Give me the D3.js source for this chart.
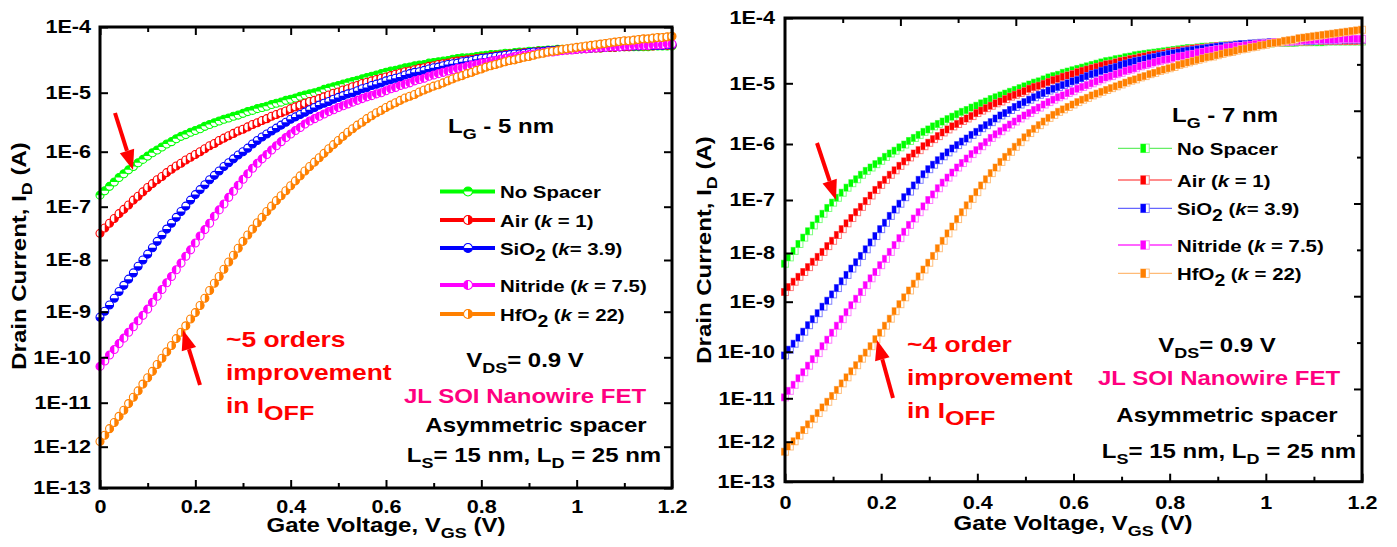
<!DOCTYPE html>
<html>
<head>
<meta charset="utf-8">
<script src="https://cdn.jsdelivr.net/npm/d3@7"></script>
<style>
  html, body { margin: 0; padding: 0; background: #fff; }
  svg { display: block; }
  text { font-family: "Liberation Sans", Arial, Helvetica, sans-serif; font-weight: bold; }
</style>
</head>
<body>
<svg id="chart" width="1397" height="547"></svg>
<script>
// Gate voltage sweep: 0 to 1.2 V in 10 mV steps
const vgs = d3.range(121).map(i => +(i / 100).toFixed(2));

// log10 of drain current I_D (A), gate length 5 nm
const lg5NoSpacer = [-6.79,
  -6.71, -6.63, -6.55, -6.47, -6.40, -6.33, -6.27, -6.20, -6.14, -6.08,
  -6.02, -5.97, -5.92, -5.87, -5.83, -5.78, -5.74, -5.71, -5.67, -5.64,
  -5.61, -5.57, -5.54, -5.51, -5.48, -5.45, -5.43, -5.40, -5.38, -5.35,
  -5.32, -5.30, -5.27, -5.25, -5.23, -5.20, -5.18, -5.16, -5.13, -5.11,
  -5.09, -5.06, -5.04, -5.02, -5.00, -4.98, -4.95, -4.93, -4.91, -4.89,
  -4.87, -4.85, -4.83, -4.81, -4.79, -4.77, -4.75, -4.73, -4.71, -4.69,
  -4.67, -4.66, -4.64, -4.62, -4.61, -4.59, -4.58, -4.57, -4.55, -4.54,
  -4.53, -4.52, -4.51, -4.49, -4.48, -4.47, -4.47, -4.46, -4.45, -4.44,
  -4.43, -4.42, -4.42, -4.41, -4.40, -4.40, -4.39, -4.38, -4.38, -4.37,
  -4.37, -4.36, -4.36, -4.35, -4.35, -4.34, -4.34, -4.34, -4.33, -4.33,
  -4.33, -4.32, -4.32, -4.32, -4.32, -4.31, -4.31, -4.31, -4.30, -4.30,
  -4.30, -4.30, -4.30, -4.30, -4.30, -4.29, -4.29, -4.29, -4.29, -4.29];
const lg5Air = [-7.50,
  -7.40, -7.31, -7.22, -7.13, -7.05, -6.97, -6.88, -6.81, -6.73, -6.65,
  -6.58, -6.51, -6.45, -6.38, -6.32, -6.26, -6.21, -6.15, -6.10, -6.05,
  -6.00, -5.95, -5.90, -5.86, -5.81, -5.77, -5.73, -5.69, -5.65, -5.62,
  -5.58, -5.54, -5.51, -5.47, -5.44, -5.40, -5.37, -5.34, -5.31, -5.27,
  -5.24, -5.21, -5.18, -5.15, -5.13, -5.10, -5.07, -5.04, -5.01, -4.99,
  -4.96, -4.94, -4.91, -4.89, -4.86, -4.84, -4.82, -4.80, -4.78, -4.76,
  -4.74, -4.72, -4.70, -4.68, -4.67, -4.65, -4.63, -4.62, -4.60, -4.59,
  -4.57, -4.56, -4.55, -4.53, -4.52, -4.51, -4.50, -4.49, -4.48, -4.47,
  -4.46, -4.45, -4.44, -4.43, -4.42, -4.41, -4.41, -4.40, -4.39, -4.39,
  -4.38, -4.37, -4.37, -4.36, -4.36, -4.35, -4.35, -4.35, -4.34, -4.34,
  -4.33, -4.33, -4.32, -4.32, -4.32, -4.31, -4.31, -4.31, -4.30, -4.30,
  -4.30, -4.29, -4.29, -4.29, -4.29, -4.29, -4.28, -4.28, -4.28, -4.28];
const lg5SiO2 = [-9.12,
  -8.99, -8.87, -8.74, -8.61, -8.49, -8.37, -8.25, -8.12, -8.00, -7.89,
  -7.77, -7.65, -7.53, -7.42, -7.31, -7.20, -7.09, -6.99, -6.88, -6.78,
  -6.69, -6.60, -6.51, -6.43, -6.35, -6.27, -6.20, -6.13, -6.06, -6.00,
  -5.94, -5.87, -5.81, -5.75, -5.70, -5.65, -5.60, -5.55, -5.50, -5.45,
  -5.41, -5.37, -5.33, -5.29, -5.25, -5.21, -5.18, -5.15, -5.11, -5.08,
  -5.05, -5.02, -5.00, -4.97, -4.94, -4.92, -4.89, -4.87, -4.85, -4.82,
  -4.80, -4.78, -4.76, -4.73, -4.71, -4.69, -4.68, -4.66, -4.64, -4.62,
  -4.61, -4.59, -4.57, -4.56, -4.55, -4.53, -4.52, -4.51, -4.49, -4.48,
  -4.47, -4.46, -4.45, -4.44, -4.43, -4.42, -4.41, -4.41, -4.40, -4.39,
  -4.38, -4.38, -4.37, -4.36, -4.36, -4.35, -4.35, -4.34, -4.34, -4.33,
  -4.33, -4.32, -4.32, -4.31, -4.31, -4.31, -4.30, -4.30, -4.30, -4.29,
  -4.29, -4.29, -4.29, -4.28, -4.28, -4.28, -4.28, -4.28, -4.27, -4.27];
const lg5Nitride = [-10.20,
  -10.08, -9.95, -9.83, -9.70, -9.58, -9.45, -9.33, -9.20, -9.08, -8.95,
  -8.82, -8.70, -8.57, -8.44, -8.32, -8.19, -8.06, -7.93, -7.81, -7.68,
  -7.55, -7.43, -7.31, -7.18, -7.06, -6.95, -6.83, -6.72, -6.61, -6.50,
  -6.40, -6.30, -6.21, -6.13, -6.05, -5.97, -5.90, -5.83, -5.76, -5.70,
  -5.64, -5.59, -5.53, -5.48, -5.44, -5.40, -5.36, -5.32, -5.29, -5.25,
  -5.22, -5.19, -5.16, -5.13, -5.10, -5.07, -5.05, -5.02, -5.00, -4.97,
  -4.94, -4.92, -4.89, -4.87, -4.85, -4.82, -4.80, -4.78, -4.75, -4.73,
  -4.71, -4.69, -4.67, -4.65, -4.63, -4.62, -4.60, -4.58, -4.57, -4.55,
  -4.54, -4.52, -4.51, -4.49, -4.48, -4.47, -4.45, -4.44, -4.43, -4.42,
  -4.41, -4.40, -4.39, -4.38, -4.38, -4.37, -4.36, -4.35, -4.35, -4.34,
  -4.33, -4.33, -4.32, -4.32, -4.31, -4.31, -4.30, -4.30, -4.30, -4.29,
  -4.29, -4.28, -4.28, -4.28, -4.28, -4.27, -4.27, -4.27, -4.26, -4.26];
const lg5HfO2 = [-11.88,
  -11.74, -11.59, -11.45, -11.31, -11.17, -11.02, -10.88, -10.74, -10.59, -10.45,
  -10.31, -10.16, -10.02, -9.88, -9.74, -9.59, -9.45, -9.31, -9.16, -9.02,
  -8.88, -8.74, -8.59, -8.45, -8.32, -8.18, -8.04, -7.91, -7.78, -7.65,
  -7.53, -7.42, -7.30, -7.20, -7.09, -6.99, -6.89, -6.80, -6.71, -6.62,
  -6.53, -6.44, -6.35, -6.27, -6.19, -6.11, -6.03, -5.95, -5.88, -5.81,
  -5.74, -5.67, -5.61, -5.55, -5.50, -5.44, -5.39, -5.34, -5.30, -5.25,
  -5.21, -5.17, -5.13, -5.09, -5.06, -5.03, -4.99, -4.96, -4.93, -4.90,
  -4.88, -4.85, -4.82, -4.79, -4.76, -4.74, -4.71, -4.69, -4.66, -4.64,
  -4.61, -4.59, -4.57, -4.55, -4.53, -4.51, -4.50, -4.48, -4.46, -4.45,
  -4.43, -4.41, -4.40, -4.38, -4.37, -4.36, -4.34, -4.33, -4.32, -4.31,
  -4.30, -4.29, -4.28, -4.27, -4.26, -4.25, -4.24, -4.23, -4.22, -4.21,
  -4.21, -4.20, -4.19, -4.18, -4.18, -4.17, -4.16, -4.16, -4.15, -4.14];

// log10 of drain current I_D (A), gate length 7 nm
const lg7NoSpacer = [-8.22,
  -8.09, -7.96, -7.83, -7.71, -7.59, -7.48, -7.36, -7.26, -7.15, -7.05,
  -6.96, -6.87, -6.78, -6.70, -6.63, -6.55, -6.48, -6.42, -6.36, -6.30,
  -6.23, -6.17, -6.12, -6.06, -6.01, -5.95, -5.90, -5.85, -5.80, -5.76,
  -5.71, -5.67, -5.63, -5.59, -5.55, -5.51, -5.47, -5.44, -5.40, -5.37,
  -5.33, -5.30, -5.26, -5.23, -5.20, -5.17, -5.14, -5.11, -5.08, -5.05,
  -5.02, -4.99, -4.97, -4.94, -4.91, -4.89, -4.87, -4.84, -4.82, -4.80,
  -4.78, -4.76, -4.74, -4.72, -4.70, -4.68, -4.66, -4.65, -4.63, -4.62,
  -4.60, -4.59, -4.57, -4.56, -4.55, -4.54, -4.53, -4.52, -4.51, -4.50,
  -4.49, -4.48, -4.47, -4.46, -4.46, -4.45, -4.44, -4.44, -4.43, -4.43,
  -4.42, -4.42, -4.41, -4.41, -4.40, -4.40, -4.40, -4.39, -4.39, -4.39,
  -4.39, -4.38, -4.38, -4.38, -4.38, -4.38, -4.37, -4.37, -4.37, -4.37,
  -4.37, -4.37, -4.36, -4.36, -4.36, -4.36, -4.36, -4.36, -4.36, -4.36];
const lg7Air = [-8.80,
  -8.70, -8.59, -8.49, -8.39, -8.29, -8.18, -8.08, -7.98, -7.87, -7.77,
  -7.66, -7.55, -7.44, -7.34, -7.23, -7.13, -7.02, -6.92, -6.82, -6.73,
  -6.64, -6.55, -6.47, -6.39, -6.31, -6.24, -6.17, -6.11, -6.04, -5.98,
  -5.92, -5.87, -5.81, -5.76, -5.71, -5.67, -5.62, -5.58, -5.54, -5.49,
  -5.45, -5.41, -5.37, -5.33, -5.30, -5.26, -5.22, -5.19, -5.16, -5.13,
  -5.09, -5.06, -5.04, -5.01, -4.98, -4.95, -4.93, -4.90, -4.88, -4.86,
  -4.83, -4.81, -4.79, -4.77, -4.75, -4.73, -4.71, -4.70, -4.68, -4.66,
  -4.65, -4.63, -4.62, -4.60, -4.59, -4.57, -4.56, -4.55, -4.54, -4.52,
  -4.51, -4.50, -4.49, -4.48, -4.47, -4.46, -4.46, -4.45, -4.44, -4.43,
  -4.43, -4.42, -4.42, -4.41, -4.41, -4.40, -4.40, -4.39, -4.39, -4.38,
  -4.38, -4.38, -4.37, -4.37, -4.37, -4.36, -4.36, -4.36, -4.36, -4.35,
  -4.35, -4.35, -4.35, -4.35, -4.35, -4.35, -4.35, -4.35, -4.35, -4.34];
const lg7SiO2 = [-10.08,
  -9.96, -9.84, -9.72, -9.60, -9.47, -9.35, -9.23, -9.10, -8.98, -8.85,
  -8.72, -8.58, -8.45, -8.32, -8.19, -8.06, -7.93, -7.80, -7.68, -7.55,
  -7.43, -7.30, -7.18, -7.07, -6.95, -6.85, -6.74, -6.64, -6.54, -6.45,
  -6.37, -6.29, -6.22, -6.15, -6.08, -6.02, -5.96, -5.91, -5.85, -5.80,
  -5.74, -5.69, -5.64, -5.58, -5.53, -5.49, -5.44, -5.39, -5.35, -5.31,
  -5.27, -5.23, -5.19, -5.16, -5.12, -5.09, -5.06, -5.03, -5.00, -4.97,
  -4.95, -4.92, -4.89, -4.86, -4.84, -4.81, -4.79, -4.77, -4.75, -4.72,
  -4.70, -4.68, -4.66, -4.65, -4.63, -4.61, -4.60, -4.58, -4.57, -4.55,
  -4.54, -4.53, -4.51, -4.50, -4.49, -4.48, -4.47, -4.46, -4.45, -4.44,
  -4.43, -4.43, -4.42, -4.41, -4.40, -4.40, -4.39, -4.39, -4.38, -4.38,
  -4.37, -4.37, -4.37, -4.36, -4.36, -4.36, -4.35, -4.35, -4.35, -4.35,
  -4.34, -4.34, -4.34, -4.34, -4.34, -4.33, -4.33, -4.33, -4.33, -4.33];
const lg7Nitride = [-10.98,
  -10.84, -10.71, -10.57, -10.44, -10.30, -10.16, -10.03, -9.89, -9.76, -9.62,
  -9.48, -9.35, -9.21, -9.07, -8.94, -8.80, -8.66, -8.52, -8.39, -8.25,
  -8.12, -7.98, -7.85, -7.72, -7.60, -7.47, -7.35, -7.23, -7.12, -7.00,
  -6.90, -6.79, -6.69, -6.60, -6.51, -6.42, -6.34, -6.26, -6.18, -6.11,
  -6.04, -5.97, -5.90, -5.84, -5.79, -5.73, -5.68, -5.63, -5.58, -5.53,
  -5.49, -5.44, -5.40, -5.35, -5.31, -5.27, -5.23, -5.20, -5.16, -5.13,
  -5.09, -5.06, -5.03, -5.00, -4.97, -4.94, -4.91, -4.89, -4.86, -4.84,
  -4.81, -4.79, -4.77, -4.74, -4.72, -4.70, -4.68, -4.66, -4.64, -4.63,
  -4.61, -4.59, -4.58, -4.56, -4.55, -4.53, -4.52, -4.50, -4.49, -4.48,
  -4.47, -4.45, -4.44, -4.43, -4.43, -4.42, -4.41, -4.40, -4.39, -4.39,
  -4.38, -4.37, -4.37, -4.36, -4.36, -4.35, -4.35, -4.34, -4.34, -4.34,
  -4.33, -4.33, -4.33, -4.33, -4.33, -4.32, -4.32, -4.32, -4.32, -4.32];
const lg7HfO2 = [-12.25,
  -12.12, -11.99, -11.86, -11.73, -11.60, -11.47, -11.34, -11.21, -11.08, -10.95,
  -10.82, -10.68, -10.55, -10.42, -10.29, -10.15, -10.02, -9.89, -9.75, -9.62,
  -9.48, -9.34, -9.19, -9.05, -8.91, -8.77, -8.63, -8.48, -8.34, -8.20,
  -8.06, -7.91, -7.77, -7.63, -7.50, -7.36, -7.23, -7.10, -6.98, -6.86,
  -6.74, -6.63, -6.52, -6.42, -6.32, -6.23, -6.14, -6.05, -5.97, -5.89,
  -5.82, -5.75, -5.69, -5.63, -5.57, -5.52, -5.47, -5.43, -5.39, -5.35,
  -5.31, -5.27, -5.24, -5.20, -5.17, -5.14, -5.11, -5.08, -5.05, -5.02,
  -4.99, -4.96, -4.94, -4.91, -4.89, -4.86, -4.84, -4.81, -4.79, -4.77,
  -4.75, -4.72, -4.70, -4.68, -4.66, -4.64, -4.62, -4.60, -4.59, -4.57,
  -4.55, -4.53, -4.52, -4.50, -4.48, -4.47, -4.45, -4.44, -4.42, -4.41,
  -4.39, -4.38, -4.37, -4.35, -4.34, -4.33, -4.31, -4.30, -4.29, -4.28,
  -4.27, -4.26, -4.25, -4.24, -4.23, -4.22, -4.21, -4.20, -4.19, -4.18];

// Axis ticks and labels
const decades = [-4, -5, -6, -7, -8, -9, -10, -11, -12, -13];
const yTickLabels = ["1E-4", "1E-5", "1E-6", "1E-7", "1E-8", "1E-9", "1E-10", "1E-11", "1E-12", "1E-13"];
const xMajorTicks = [0, 0.2, 0.4, 0.6, 0.8, 1.0, 1.2];
const xTickLabels = ["0", "0.2", "0.4", "0.6", "0.8", "1", "1.2"];
const xMinorTicks = [0.1, 0.3, 0.5, 0.7, 0.9, 1.1];

// Legend labels (spacer dielectrics)
const legendLabels = [
  ["No Spacer"],
  ["Air (", { t: "k", it: true }, " = 1)"],
  ["SiO", { t: "2", sub: true, scale: 0.95, drop: 6 }, " (", { t: "k", it: true }, "= 3.9)"],
  ["Nitride (", { t: "k", it: true }, " = 7.5)"],
  ["HfO", { t: "2", sub: true, scale: 0.95, drop: 6 }, " (", { t: "k", it: true }, " = 22)"]
];

// ---------------------------------------------------------------- drawing
const FONT_SX = 1.2;
const colors = ["#00ff00", "#ff0000", "#0000ff", "#ff00ff", "#ff8000"];
const lightColors = ["#80ff80", "#ff8080", "#8080ff", "#ff80ff", "#ffc080"];
const legendLineColors = ["#66ee66", "#ff6666", "#6666ff", "#ff33ff", "#ffbb77"];
const halfAngle = [-Math.PI / 2, 0, Math.PI / 2, Math.PI, 0];

const svg = d3.select("#chart");

function richText(g, x, y, parts, o = {}) {
  const size = o.size || 20;
  const t = g.append("text")
    .attr("transform", `translate(${x},${y}) rotate(${o.rotate || 0}) scale(${FONT_SX},1)`)
    .attr("text-anchor", o.anchor || "start")
    .attr("font-size", size)
    .attr("fill", o.color || "#000");
  let shifted = 0;
  parts.forEach(p => {
    const seg = typeof p === "string" ? { t: p } : p;
    const s = t.append("tspan").text(seg.t);
    const want = seg.sub ? (seg.drop != null ? seg.drop : size * 0.3) : 0;
    if (want !== shifted) { s.attr("dy", want - shifted); shifted = want; }
    if (seg.sub) s.attr("font-size", size * (seg.scale || 0.75));
    if (seg.it) s.attr("font-style", "italic");
  });
  return t;
}

function arrow(g, x1, y1, x2, y2) {
  const a = Math.atan2(y2 - y1, x2 - x1), L = 20, W = 7.5;
  const bx = x2 - L * Math.cos(a), by = y2 - L * Math.sin(a);
  g.append("line").attr("x1", x1).attr("y1", y1).attr("x2", bx).attr("y2", by)
    .attr("stroke", "#ff0000").attr("stroke-width", 4);
  g.append("path")
    .attr("d", `M${x2},${y2}L${bx + W * Math.sin(a)},${by - W * Math.cos(a)}L${bx - W * Math.sin(a)},${by + W * Math.cos(a)}Z`)
    .attr("fill", "#ff0000");
}

function circleMarker(sel, si, r) {
  sel.append("circle").attr("r", r).attr("fill", "#fff")
    .attr("stroke", colors[si]).attr("stroke-width", 1.1);
  sel.append("path")
    .attr("d", d3.arc()({ innerRadius: 0, outerRadius: r, startAngle: halfAngle[si], endAngle: halfAngle[si] + Math.PI }))
    .attr("fill", colors[si]);
}

function squareMarker(sel, si, s) {
  sel.append("rect").attr("x", -s / 2).attr("y", -s / 2).attr("width", s).attr("height", s)
    .attr("fill", "#fff").attr("stroke", lightColors[si]).attr("stroke-width", 1);
  sel.append("rect").attr("x", -s / 2).attr("y", -s / 2).attr("width", s * 0.6).attr("height", s)
    .attr("fill", colors[si]);
}

function styleAxis(a) {
  a.select(".domain").remove();
  a.selectAll(".tick line").attr("stroke", "#000").attr("stroke-width", 2);
  a.selectAll(".tick text").attr("fill", "#000").attr("transform", `scale(${FONT_SX},1)`);
  a.attr("font-size", 18).attr("font-family", null);
}

const panels = [
  {
    series: [lg5NoSpacer, lg5Air, lg5SiO2, lg5Nitride, lg5HfO2],
    marker: "circle",
    x0: 100, x1: 672,
    decadePx: [27, 92.7, 151.7, 206.7, 260, 311.7, 357.3, 402.7, 446.7, 488],
    xPad: 12, yPad: 7.5,
    uniformMirror: false,
    title: ["L", { t: "G", sub: true, drop: 6 }, " - 5 nm"], titlePos: [448, 133],
    legend: { x1: 440, x2: 495, mx: 468, tx: 500, rows: [191.5, 220, 248, 285, 314], dy: 6.5 },
    notes: [
      { parts: ["V", { t: "DS", sub: true, drop: 6 }, "= 0.9 V"], x: 525, y: 367 },
      { parts: ["JL SOI Nanowire FET"], x: 525, y: 403, color: "#ff0080" },
      { parts: ["Asymmetric spacer"], x: 536, y: 432 },
      { parts: ["L", { t: "S", sub: true, drop: 6 }, "= 15 nm, L", { t: "D", sub: true, drop: 6 }, " = 25 nm"], x: 534, y: 462 }
    ],
    red: { x: 226, lines: [["~5 orders"], ["improvement"], ["in I", { t: "OFF", sub: true, scale: 0.95, drop: 7 }]], ys: [347, 380, 413] },
    arrows: [[115, 113, 133, 170], [200, 385, 183, 330]],
    xTitle: [386, 532], yTitle: [26, 256]
  },
  {
    series: [lg7NoSpacer, lg7Air, lg7SiO2, lg7Nitride, lg7HfO2],
    marker: "square",
    x0: 785, x1: 1362,
    decadePx: [18, 83.3, 144, 200, 253, 301.7, 351.7, 398.3, 441.7, 481.7],
    xPad: 15, yPad: 8.3,
    uniformMirror: true,
    title: ["L", { t: "G", sub: true, drop: 6 }, " - 7 nm"], titlePos: [1172, 122],
    legend: { x1: 1118, x2: 1172, mx: 1145, tx: 1177, rows: [148.3, 180, 208.3, 245, 273.3], dy: 7 },
    notes: [
      { parts: ["V", { t: "DS", sub: true, drop: 6 }, "= 0.9 V"], x: 1217, y: 352 },
      { parts: ["JL SOI Nanowire FET"], x: 1219, y: 385, color: "#ff0080" },
      { parts: ["Asymmetric spacer"], x: 1227, y: 422 },
      { parts: ["L", { t: "S", sub: true, drop: 6 }, "= 15 nm, L", { t: "D", sub: true, drop: 6 }, " = 25 nm"], x: 1229, y: 458 }
    ],
    red: { x: 907, lines: [["~4 order"], ["improvement"], ["in I", { t: "OFF", sub: true, scale: 0.95, drop: 7 }]], ys: [352, 385, 418] },
    arrows: [[817, 143, 836, 200], [893, 398, 877, 340]],
    xTitle: [1073, 530], yTitle: [711, 250]
  }
];

panels.forEach(P => {
  const g = svg.append("g");
  const x = d3.scaleLinear().domain([0, 1.2]).range([P.x0, P.x1]);
  const y = d3.scaleLinear().domain(decades).range(P.decadePx);
  const top = P.decadePx[0], bottom = P.decadePx[P.decadePx.length - 1];

  // measured curves
  const plot = g.append("g");
  P.series.forEach((vals, si) => {
    const pts = vgs.map((v, i) => [v, vals[i]]);
    plot.append("path")
      .attr("d", d3.line().x(d => x(d[0])).y(d => y(d[1]))(pts))
      .attr("fill", "none").attr("stroke", colors[si]).attr("stroke-width", 1.5);
    const mk = plot.append("g").selectAll("g").data(pts).join("g")
      .attr("transform", d => `translate(${x(d[0])},${y(d[1])})`);
    if (P.marker === "circle") circleMarker(mk, si, 4);
    else squareMarker(mk, si, 7);
  });

  // frame
  g.append("rect").attr("x", P.x0).attr("y", top)
    .attr("width", P.x1 - P.x0).attr("height", bottom - top)
    .attr("fill", "none").attr("stroke", "#000").attr("stroke-width", 3);

  // bottom axis
  g.append("g").attr("transform", `translate(0,${bottom})`)
    .call(d3.axisBottom(x).tickValues(xMajorTicks).tickFormat((d, i) => xTickLabels[i]).tickSize(-8).tickPadding(P.xPad))
    .call(styleAxis);
  g.append("g").attr("transform", `translate(0,${bottom})`)
    .call(d3.axisBottom(x).tickValues(xMinorTicks).tickFormat("").tickSize(-5))
    .call(styleAxis);
  // left axis
  g.append("g").attr("transform", `translate(${P.x0},0)`)
    .call(d3.axisLeft(y).tickValues(decades).tickFormat((d, i) => yTickLabels[i]).tickSize(-8).tickPadding(P.yPad))
    .call(styleAxis);

  // top and right mirror axes
  if (!P.uniformMirror) {
    g.append("g").attr("transform", `translate(0,${top})`)
      .call(d3.axisTop(x).tickValues(xMajorTicks).tickFormat("").tickSize(-8)).call(styleAxis);
    g.append("g").attr("transform", `translate(0,${top})`)
      .call(d3.axisTop(x).tickValues(xMinorTicks).tickFormat("").tickSize(-5)).call(styleAxis);
    g.append("g").attr("transform", `translate(${P.x1},0)`)
      .call(d3.axisRight(y).tickValues(decades).tickFormat("").tickSize(-8)).call(styleAxis);
  } else {
    const mx = d3.scaleLinear().domain([0, 10]).range([P.x0, P.x1]);
    const my = d3.scaleLinear().domain([0, 10]).range([top, bottom]);
    const major = [2, 4, 6, 8], minor = [1, 3, 5, 7, 9];
    g.append("g").attr("transform", `translate(0,${top})`)
      .call(d3.axisTop(mx).tickValues(major).tickFormat("").tickSize(-8)).call(styleAxis);
    g.append("g").attr("transform", `translate(0,${top})`)
      .call(d3.axisTop(mx).tickValues(minor).tickFormat("").tickSize(-5)).call(styleAxis);
    g.append("g").attr("transform", `translate(${P.x1},0)`)
      .call(d3.axisRight(my).tickValues(major).tickFormat("").tickSize(-8)).call(styleAxis);
    g.append("g").attr("transform", `translate(${P.x1},0)`)
      .call(d3.axisRight(my).tickValues(minor).tickFormat("").tickSize(-5)).call(styleAxis);
  }

  // axis titles
  richText(g, P.xTitle[0], P.xTitle[1], ["Gate Voltage, V", { t: "GS", sub: true, drop: 6 }, " (V)"], { anchor: "middle", size: 20 });
  richText(g, P.yTitle[0], P.yTitle[1], ["Drain Current, I", { t: "D", sub: true, drop: 6 }, " (A)"], { anchor: "middle", size: 20, rotate: -90 });

  // gate length label
  richText(g, P.titlePos[0], P.titlePos[1], P.title, { size: 20 });

  // legend
  const L = P.legend;
  legendLabels.forEach((parts, si) => {
    const ry = L.rows[si];
    if (P.marker === "circle") {
      g.append("line").attr("x1", L.x1).attr("x2", L.x2).attr("y1", ry).attr("y2", ry)
        .attr("stroke", colors[si]).attr("stroke-width", 4);
      circleMarker(g.append("g").attr("transform", `translate(${L.mx},${ry})`), si, 4.5);
    } else {
      g.append("line").attr("x1", L.x1).attr("x2", L.x2).attr("y1", ry).attr("y2", ry)
        .attr("stroke", legendLineColors[si]).attr("stroke-width", 1.3);
      squareMarker(g.append("g").attr("transform", `translate(${L.mx},${ry})`), si, 8.5);
    }
    richText(g, L.tx, ry + L.dy, parts, { size: 17 });
  });

  // device notes
  P.notes.forEach(n => richText(g, n.x, n.y, n.parts, { anchor: "middle", size: 20, color: n.color }));

  // I_OFF improvement annotation
  P.red.lines.forEach((parts, i) => richText(g, P.red.x, P.red.ys[i], parts, { size: 22, color: "#ff0000" }));
  P.arrows.forEach(a => arrow(g, ...a));
});
</script>
</body>
</html>
